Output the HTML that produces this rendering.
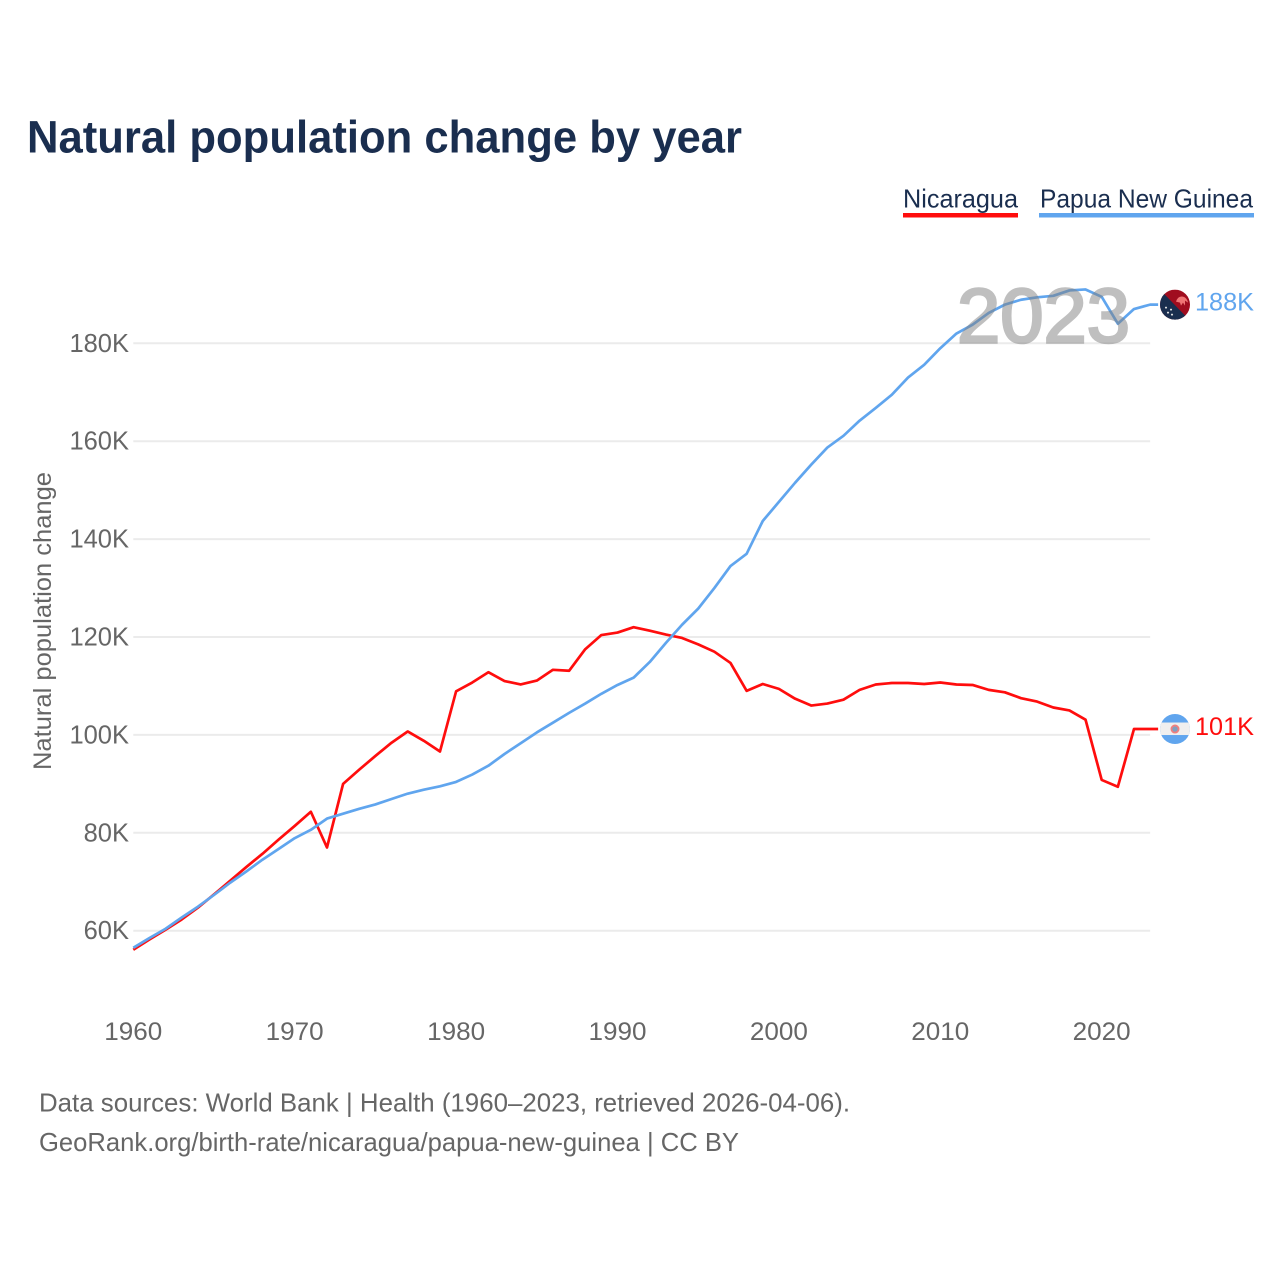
<!DOCTYPE html>
<html lang="en">
<head>
<meta charset="utf-8">
<title>Natural population change by year</title>
<style>
html,body{margin:0;padding:0;background:#fff;width:1280px;height:1280px;overflow:hidden}
svg{display:block;font-family:"Liberation Sans",sans-serif}
</style>
</head>
<body>
<svg id="chart" xmlns="http://www.w3.org/2000/svg" width="1280" height="1280" viewBox="0 0 1280 1280">
  <rect width="1280" height="1280" fill="#fff"/>
  <text x="27" y="152.5" font-size="45" font-weight="700" fill="#1a2e4f" textLength="715" lengthAdjust="spacingAndGlyphs">Natural population change by year</text>

  <g>
    <text x="903" y="207.5" font-size="26" fill="#1a2e4f" textLength="115" lengthAdjust="spacingAndGlyphs">Nicaragua</text>
    <rect x="903" y="213" width="115" height="4.5" fill="#ff0d0d"/>
  </g>
  <g>
    <text x="1040" y="207.5" font-size="26" fill="#1a2e4f" textLength="213" lengthAdjust="spacingAndGlyphs">Papua New Guinea</text>
    <rect x="1039" y="213" width="215" height="4.5" fill="#60a5ee"/>
  </g>

  <text transform="translate(51 770) rotate(-90)" font-size="25" fill="#666" textLength="298" lengthAdjust="spacingAndGlyphs">Natural population change</text>

  <g id="grid"></g>
  <g id="y-ticks"></g>
  <g id="x-ticks"></g>
  <g id="series"></g>

  <text x="957" y="342.5" font-size="77" fill="#808080" stroke="#808080" stroke-width="2.6" opacity="0.5" textLength="173" lengthAdjust="spacingAndGlyphs">2023</text>

  <defs>
    <clipPath id="clip-pg"><circle id="clip-pg-circle" cx="1175" cy="305" r="15"/></clipPath>
    <clipPath id="clip-ni"><circle id="clip-ni-circle" cx="1175" cy="730" r="15"/></clipPath>
  </defs>
  <g id="flag-pg">
    <g clip-path="url(#clip-pg)">
      <rect x="1160" y="290" width="30" height="31" fill="#a00d1f"/>
      <polygon points="1160,290 1190,321 1160,321" fill="#1a2e4f"/>
      <path d="M1176 302 q2 -6 7 -5 q4 1 5 6 l-3 -2 l0 5 l-2 -3 l-2 3 l-1 -3 z" fill="#f07575"/>
      <circle cx="1166" cy="308" r="1" fill="#e8e8e8"/>
      <circle cx="1171" cy="310" r="1" fill="#e8e8e8"/>
      <circle cx="1168" cy="313" r="1" fill="#e8e8e8"/>
      <circle cx="1172" cy="315" r="1" fill="#e8e8e8"/>
    </g>
  </g>
  <g id="flag-ni">
    <g clip-path="url(#clip-ni)">
      <rect x="1160" y="714" width="30" height="32" fill="#60a5ee"/>
      <rect x="1160" y="723.5" width="30" height="12.5" fill="#efefef"/>
      <circle cx="1175" cy="730" r="3.6" fill="#7f9fc0" stroke="#ef7f7f" stroke-width="1.8"/>
    </g>
  </g>
  <g id="end-labels"></g>

  <text x="39" y="1111.5" font-size="26" fill="#666" textLength="811" lengthAdjust="spacingAndGlyphs">Data sources: World Bank | Health (1960–2023, retrieved 2026-04-06).</text>
  <text x="39" y="1151" font-size="26" fill="#666" textLength="700" lengthAdjust="spacingAndGlyphs">GeoRank.org/birth-rate/nicaragua/papua-new-guinea | CC BY</text>
</svg>

<script>
const years = [1960,1961,1962,1963,1964,1965,1966,1967,1968,1969,1970,1971,1972,1973,1974,1975,1976,1977,1978,1979,1980,1981,1982,1983,1984,1985,1986,1987,1988,1989,1990,1991,1992,1993,1994,1995,1996,1997,1998,1999,2000,2001,2002,2003,2004,2005,2006,2007,2008,2009,2010,2011,2012,2013,2014,2015,2016,2017,2018,2019,2020,2021,2022,2023];
const nicaraguaValues = [56.1,58.2,60.2,62.3,64.7,67.4,70.2,73.0,75.7,78.6,81.4,84.3,77.0,90.0,92.9,95.7,98.4,100.7,98.8,96.6,108.9,110.7,112.8,111.0,110.3,111.1,113.3,113.1,117.5,120.4,120.9,122.0,121.3,120.5,119.8,118.5,117.0,114.7,109.0,110.4,109.4,107.4,106.0,106.4,107.2,109.2,110.3,110.6,110.6,110.4,110.7,110.3,110.2,109.2,108.7,107.5,106.8,105.6,105.0,103.1,90.8,89.4,101.2,101.2];
const papuaValues = [56.5,58.5,60.4,62.7,64.9,67.3,69.8,72.1,74.5,76.7,78.9,80.6,82.9,83.9,84.9,85.8,86.9,88.0,88.8,89.5,90.4,91.9,93.7,96.1,98.3,100.5,102.5,104.5,106.4,108.4,110.2,111.7,114.9,118.8,122.5,125.8,130.0,134.5,137.0,143.7,147.6,151.5,155.2,158.7,161.1,164.2,166.8,169.5,173.0,175.6,179.0,182.0,183.8,186.2,187.9,188.9,189.4,189.7,190.8,191.0,189.5,184.0,187.0,187.9];
const yTickValues = [60,80,100,120,140,160,180];
const xTickValues = [1960,1970,1980,1990,2000,2010,2020];

const NS = 'http://www.w3.org/2000/svg';
function xScale(year){ return 133.3 + (year - 1960) * 16.14; }
function yScale(value){ return 930.7 - (value - 60) * 4.895; }

const gridGroup = document.getElementById('grid');
const yTickGroup = document.getElementById('y-ticks');
const xTickGroup = document.getElementById('x-ticks');
const seriesGroup = document.getElementById('series');
const endGroup = document.getElementById('end-labels');

yTickValues.forEach(function(v){
  const line = document.createElementNS(NS,'line');
  
  
  line.setAttribute('x1', xScale(1960));
  line.setAttribute('x2', xScale(2023));
  line.setAttribute('y1', yScale(v));
  line.setAttribute('y2', yScale(v));
  line.setAttribute('stroke', '#ebebeb');
  line.setAttribute('stroke-width', '2');
  gridGroup.appendChild(line);

  const label = document.createElementNS(NS,'text');
  
  
  label.setAttribute('x', 129);
  label.setAttribute('y', yScale(v) + 8.5);
  label.setAttribute('text-anchor', 'end');
  label.setAttribute('font-size', '25.5');
  label.setAttribute('fill', '#666');
  label.textContent = v + 'K';
  yTickGroup.appendChild(label);
});

xTickValues.forEach(function(year){
  const label = document.createElementNS(NS,'text');
  
  
  label.setAttribute('x', xScale(year));
  label.setAttribute('y', 1040);
  label.setAttribute('text-anchor', 'middle');
  label.setAttribute('font-size', '25');
  label.setAttribute('fill', '#666');
  label.setAttribute('textLength', '58');
  label.setAttribute('lengthAdjust', 'spacingAndGlyphs');
  label.textContent = year;
  xTickGroup.appendChild(label);
});

function linePoints(values){
  const pts = values.map(function(v,i){ return xScale(years[i]).toFixed(2) + ',' + yScale(v).toFixed(2); });
  pts.push((xScale(years[years.length-1]) + 8).toFixed(2) + ',' + yScale(values[values.length-1]).toFixed(2));
  return pts.join(' ');
}

const redLine = document.createElementNS(NS,'polyline');


redLine.setAttribute('points', linePoints(nicaraguaValues));
redLine.setAttribute('fill', 'none');
redLine.setAttribute('stroke', '#ff0d0d');
redLine.setAttribute('stroke-width', '2.7');
redLine.setAttribute('stroke-linejoin', 'round');
seriesGroup.appendChild(redLine);

const blueLine = document.createElementNS(NS,'polyline');


blueLine.setAttribute('points', linePoints(papuaValues));
blueLine.setAttribute('fill', 'none');
blueLine.setAttribute('stroke', '#60a5ee');
blueLine.setAttribute('stroke-width', '2.7');
blueLine.setAttribute('stroke-linejoin', 'round');
seriesGroup.appendChild(blueLine);

const pgLast = papuaValues[papuaValues.length-1];
const niLast = nicaraguaValues[nicaraguaValues.length-1];

const pgLabel = document.createElementNS(NS,'text');


pgLabel.setAttribute('x', 1195);
pgLabel.setAttribute('y', yScale(pgLast) + 6);
pgLabel.setAttribute('font-size', '25');
pgLabel.setAttribute('fill', '#60a5ee');
pgLabel.setAttribute('textLength', '59');
pgLabel.setAttribute('lengthAdjust', 'spacingAndGlyphs');
pgLabel.textContent = Math.round(pgLast) + 'K';
endGroup.appendChild(pgLabel);

const niLabel = document.createElementNS(NS,'text');


niLabel.setAttribute('x', 1195);
niLabel.setAttribute('y', yScale(niLast) + 6);
niLabel.setAttribute('font-size', '25');
niLabel.setAttribute('fill', '#ff0d0d');
niLabel.setAttribute('textLength', '59');
niLabel.setAttribute('lengthAdjust', 'spacingAndGlyphs');
niLabel.textContent = Math.round(niLast) + 'K';
endGroup.appendChild(niLabel);

document.getElementById('flag-pg').setAttribute('transform', 'translate(0 ' + (yScale(pgLast) - 305) + ')');
document.getElementById('flag-ni').setAttribute('transform', 'translate(0 ' + (yScale(niLast) - 730) + ')');
</script>
</body>
</html>
